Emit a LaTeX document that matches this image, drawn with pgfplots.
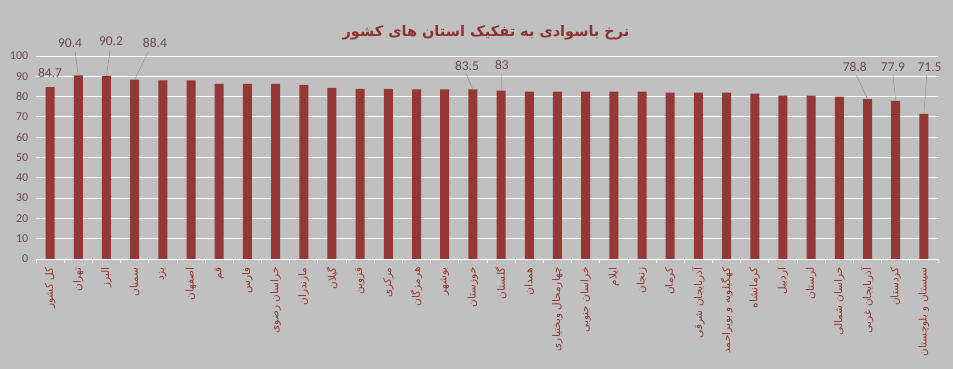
\documentclass[border=0pt]{standalone}
\usepackage{fontspec}
\setmainfont{Carlito}
\newfontfamily\fa[Script=Arabic]{DejaVu Sans}
\usepackage{pgfplots}
\pgfplotsset{compat=1.18}
\TeXXeTstate=1
\definecolor{bg}{RGB}{192,192,192}
\definecolor{barc}{RGB}{149,55,53}
\definecolor{lbl}{RGB}{105,75,75}
\definecolor{ttl}{RGB}{140,50,48}
\begin{document}
\begin{tikzpicture}
\fill[bg] (0,0) rectangle (953pt,369pt);
\begin{axis}[
  at={(36pt,110pt)}, anchor=south west, scale only axis,
  width=902pt, height=203pt,
  xmin=-0.5, xmax=31.5, ymin=0, ymax=100,
  axis x line*=bottom, axis y line*=left,
  x axis line style={white, line width=0.8pt},
  y axis line style={draw=none},
  ytick={0,10,...,100},
  ymajorgrids, grid style={white, line width=0.8pt},
  ytick style={draw=none},
  xtick={0,...,31},
  major x tick style={draw=none},
  minor xtick={-0.5,0.5,...,31.5},
  minor x tick style={white, line width=0.8pt},
  minor tick length=4pt, tick align=outside,
  /pgf/number format/assume math mode=true,
  yticklabel style={font=\fontsize{12}{12}\selectfont, text=lbl},
  xticklabel style={rotate=90, anchor=east, font=\fa\fontsize{10.5}{10.5}\selectfont, text=barc, inner sep=4pt},
  xticklabels={
    {\beginR کل کشور\endR},{\beginR تهران\endR},{\beginR البرز\endR},{\beginR سمنان\endR},{\beginR یزد\endR},{\beginR اصفهان\endR},{\beginR قم\endR},{\beginR فارس\endR},
    {\beginR خراسان رضوی\endR},{\beginR مازندران\endR},{\beginR گیلان\endR},{\beginR قزوین\endR},{\beginR مرکزی\endR},{\beginR هرمزگان\endR},{\beginR بوشهر\endR},{\beginR خوزستان\endR},
    {\beginR گلستان\endR},{\beginR همدان\endR},{\beginR چهارمحال وبختیاری\endR},{\beginR خراسان جنوبی\endR},{\beginR ایلام\endR},{\beginR زنجان\endR},{\beginR کرمان\endR},{\beginR آذربایجان شرقی\endR},
    {\beginR کهگیلویه و بویراحمد\endR},{\beginR کرمانشاه\endR},{\beginR اردبیل\endR},{\beginR لرستان\endR},{\beginR خراسان شمالی\endR},{\beginR آذربایجان غربی\endR},{\beginR کردستان\endR},{\beginR سیستان و بلوچستان\endR}},
  clip=false,
]
\addplot[ybar, bar width=9pt, fill=barc, draw=none] coordinates {
 (0,84.7) (1,90.4) (2,90.2) (3,88.4) (4,88.0) (5,88.0) (6,86.3) (7,86.3)
 (8,86.3) (9,85.8) (10,84.3) (11,83.8) (12,83.8) (13,83.5) (14,83.5) (15,83.5)
 (16,83.0) (17,82.5) (18,82.5) (19,82.5) (20,82.5) (21,82.5) (22,82.0) (23,82.0)
 (24,82.0) (25,81.5) (26,80.5) (27,80.5) (28,80.0) (29,78.8) (30,77.9) (31,71.5)};
\begin{scope}[gray!85!white, line width=0.5pt]
\draw (axis cs:0.89,102) -- (axis cs:1,90.4);
\draw (axis cs:2.13,103) -- (axis cs:2,90.2);
\draw (axis cs:3.48,102) -- (axis cs:3,88.4);
\draw (axis cs:14.75,91.6) -- (axis cs:15,83.5);
\draw (axis cs:16.03,91.6) -- (axis cs:16,83);
\draw (axis cs:28.6,90.6) -- (axis cs:29,78.8);
\draw (axis cs:29.9,90.6) -- (axis cs:30,77.9);
\draw (axis cs:31.1,90.6) -- (axis cs:31,71.5);
\end{scope}
\begin{scope}[every node/.style={font=\fontsize{13.5}{13.5}\selectfont, text=lbl}]
\node at (axis cs:0,91.6) {84.7};
\node at (axis cs:0.71,106.4) {90.4};
\node at (axis cs:2.16,107.4) {90.2};
\node at (axis cs:3.72,106.4) {88.4};
\node at (axis cs:14.79,95.1) {83.5};
\node at (axis cs:16.03,95.6) {83};
\node at (axis cs:28.55,94.6) {78.8};
\node at (axis cs:29.9,94.6) {77.9};
\node at (axis cs:31.2,94.6) {71.5};
\end{scope}
\end{axis}
\node[font=\fa\bfseries\fontsize{14.5}{14.5}\selectfont, text=ttl] at (486pt,336pt) {\beginR نرخ باسوادی به تفکیک استان های کشور\endR};
\end{tikzpicture}
\end{document}
